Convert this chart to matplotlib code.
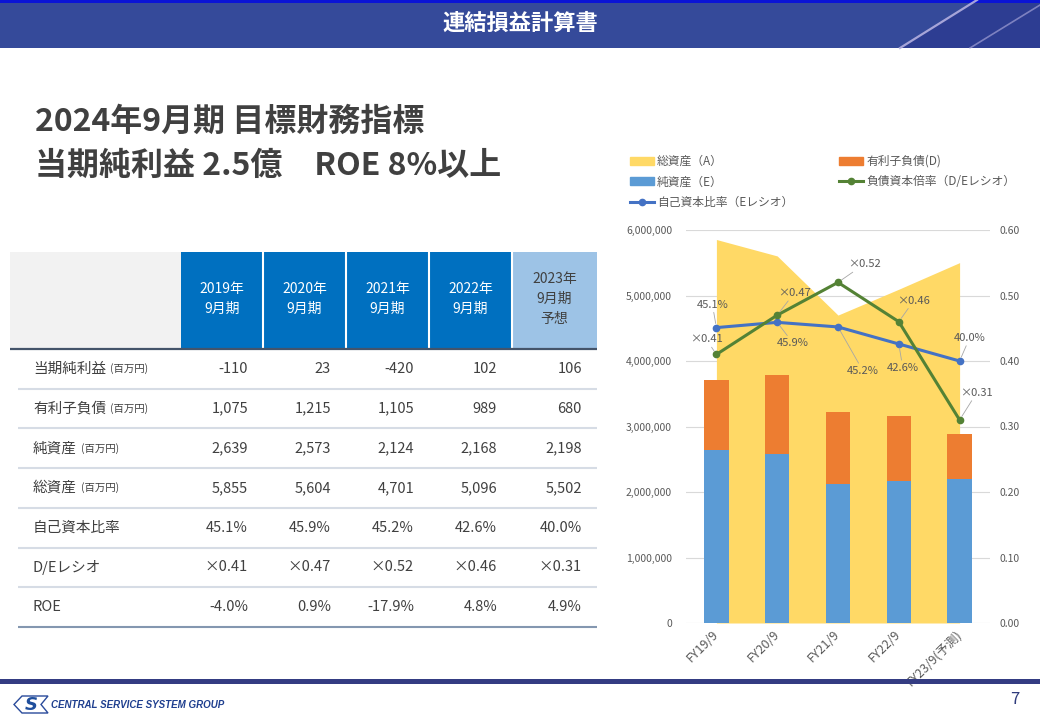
import numpy as np
import matplotlib.pyplot as plt
from matplotlib.patches import Rectangle, Polygon, Patch
from matplotlib.lines import Line2D
from matplotlib.ticker import FuncFormatter

plt.rcParams['font.family'] = ['Noto Sans CJK JP', 'DejaVu Sans']

# data (百万円)
hdr_labels = ['2019年\n9月期', '2020年\n9月期', '2021年\n9月期', '2022年\n9月期', '2023年\n9月期\n予想']
row_names = ['当期純利益', '有利子負債', '純資産', '総資産', '自己資本比率', 'D/Eレシオ', 'ROE']
row_units = ['(百万円)', '(百万円)', '(百万円)', '(百万円)', '', '', '']
net_income = [-110, 23, -420, 102, 106]
debt = [1075, 1215, 1105, 989, 680]
net_assets = [2639, 2573, 2124, 2168, 2198]
total_assets = [5855, 5604, 4701, 5096, 5502]
equity_ratio = [45.1, 45.9, 45.2, 42.6, 40.0]
de_ratio = [0.41, 0.47, 0.52, 0.46, 0.31]
roe = [-4.0, 0.9, -17.9, 4.8, 4.9]
fy_labels = ['FY19/9', 'FY20/9', 'FY21/9', 'FY22/9', 'FY23/9(予測)']

txt = '#404040'
gray = '#595959'

fig = plt.figure(figsize=(10.4, 7.2), dpi=100)
bg = fig.add_axes([0, 0, 1, 1])
bg.set_xlim(0, 1040); bg.set_ylim(720, 0); bg.axis('off')

# header bar
bg.add_patch(Rectangle((0, 0), 1040, 48, color='#354a9a', lw=0))
bg.add_patch(Polygon([(900, 48), (977, 0), (1040, 0), (1040, 48)], color='#2d3d92', lw=0))
bg.plot([900, 977], [48, 0], color='#b4b0e0', lw=1.6, alpha=0.9)
bg.plot([970, 1040], [48, 5], color='#b4b0e0', lw=1.2, alpha=0.6)
bg.add_patch(Rectangle((0, 0), 1040, 2.5, color='#0a14d6', lw=0))
bg.text(520, 23, '連結損益計算書', color='white', fontsize=16, fontweight='bold',
        ha='center', va='center')

# headline
bg.text(35, 122, '2024年9月期 目標財務指標', color=txt, fontsize=23, fontweight='bold',
        ha='left', va='center')
bg.text(35, 166, '当期純利益 2.5億　ROE 8%以上', color=txt, fontsize=23, fontweight='bold',
        ha='left', va='center')

# table
col_edges = [181, 263, 346, 429, 512, 597]
bg.add_patch(Rectangle((10, 252), 171, 97, color='#f2f2f2', lw=0))
for i in range(5):
    c = '#9dc3e6' if i == 4 else '#0070c0'
    bg.add_patch(Rectangle((col_edges[i], 252), col_edges[i + 1] - col_edges[i], 97, color=c, lw=0))
    cx = (col_edges[i] + col_edges[i + 1]) / 2
    bg.text(cx, 299, hdr_labels[i], color=txt if i == 4 else 'white', fontsize=10,
            ha='center', va='center', linespacing=1.5)
bg.vlines(col_edges[1:-1], 252, 349, color='white', lw=1.5)
bg.hlines(349, 10, 597, color='#44546a', lw=1.6)

cells = [
    [f'{v:,}' for v in net_income],
    [f'{v:,}' for v in debt],
    [f'{v:,}' for v in net_assets],
    [f'{v:,}' for v in total_assets],
    [f'{v:.1f}%' for v in equity_ratio],
    [f'×{v:.2f}' for v in de_ratio],
    [f'{v:.1f}%' for v in roe],
]
row_h = 39.7
for r in range(7):
    yc = 349 + row_h * (r + 0.5)
    t = bg.text(33, yc, row_names[r], color=txt, fontsize=10.5, ha='left', va='center')
    if row_units[r]:
        bg.annotate(row_units[r], xy=(1, 0.5), xycoords=t, xytext=(4, 0),
                    textcoords='offset pixels', color=txt, fontsize=7.5,
                    ha='left', va='center')
    for i in range(5):
        bg.text(col_edges[i + 1] - 15, yc, cells[r][i], color=txt, fontsize=10.5,
                ha='right', va='center')
    ly = 349 + row_h * (r + 1)
    if r < 6:
        bg.hlines(ly, 18, 597, color='#d6dce5', lw=1.5)
    else:
        bg.hlines(ly, 18, 597, color='#8497b0', lw=1.5)

# chart
x = np.arange(5)
ta = np.array(total_assets) * 1000
na = np.array(net_assets) * 1000
db = np.array(debt) * 1000

ax = fig.add_axes([686 / 1040, 97 / 720, 304 / 1040, 393 / 720])
ax.patch.set_alpha(0)
ax.fill_between(x, ta, color='#ffd966', lw=0, zorder=1)
ax.bar(x, na, width=0.4, color='#5b9bd5', zorder=2)
ax.bar(x, db, bottom=na, width=0.4, color='#ed7d31', zorder=2)
ax.set_xlim(-0.5, 4.5)
ax.set_ylim(0, 6e6)
ax.set_yticks(np.arange(0, 6e6 + 1, 1e6))
ax.yaxis.set_major_formatter(FuncFormatter(lambda v, p: f'{v:,.0f}'))
ax.yaxis.grid(True, color='#d9d9d9', lw=0.8)
ax.set_axisbelow(True)
ax.set_xticks(x)
ax.set_xticklabels(fy_labels, rotation=45, ha='right', va='center', rotation_mode='anchor')
for s in ax.spines.values():
    s.set_visible(False)
ax.tick_params(axis='both', length=0, colors=gray, labelsize=7.5)
ax.tick_params(axis='x', pad=7, labelsize=9)
ax.tick_params(axis='y', pad=10)

ax2 = ax.twinx()
ax2.set_ylim(0, 0.6)
ax2.set_yticks(np.arange(0, 0.61, 0.1))
ax2.yaxis.set_major_formatter(FuncFormatter(lambda v, p: f'{v:.2f}'))
for s in ax2.spines.values():
    s.set_visible(False)
ax2.tick_params(axis='y', length=0, colors=gray, labelsize=7.5, pad=7)
eq = np.array(equity_ratio) / 100
ax2.plot(x, eq, color='#4472c4', lw=2.2, marker='o', ms=4.5, zorder=3)
ax2.plot(x, de_ratio, color='#548235', lw=2.2, marker='o', ms=4.5, zorder=4)

# data labels (offsets in pixels)
eq_off = [(-4, 23), (16, -21), (25, -44), (4, -24), (10, 23)]
de_off = [(-10, 15), (17, 22), (26, 18), (15, 21), (17, 27)]
lead = dict(arrowstyle='-', color='#a6a6a6', lw=0.6, shrinkA=0, shrinkB=3)
for i in range(5):
    ax2.annotate(f'{equity_ratio[i]:.1f}%', xy=(x[i], eq[i]), xytext=eq_off[i],
                 textcoords='offset pixels', ha='center', va='center', fontsize=8,
                 color=gray, arrowprops=lead, zorder=6)
    ax2.annotate(f'×{de_ratio[i]:.2f}', xy=(x[i], de_ratio[i]), xytext=de_off[i],
                 textcoords='offset pixels', ha='center', va='center', fontsize=8,
                 color=gray, arrowprops=lead, zorder=6)

handles = [
    Patch(color='#ffd966'),
    Patch(color='#5b9bd5'),
    Line2D([], [], color='#4472c4', lw=2.2, marker='o', ms=4.5),
    Patch(color='#ed7d31'),
    Line2D([], [], color='#548235', lw=2.2, marker='o', ms=4.5),
]
labels = ['総資産（A）', '純資産（E）', '自己資本比率（Eレシオ）', '有利子負債(D)', '負債資本倍率（D/Eレシオ）']
fig.legend(handles, labels, ncol=2, loc='upper left', bbox_to_anchor=(630 / 1040, 1 - 155 / 720),
           frameon=False, fontsize=8.5, labelcolor=gray, handlelength=2.0, handleheight=0.6,
           labelspacing=0.62, columnspacing=3.9, handletextpad=0.3, borderaxespad=0, borderpad=0)

# footer
top = fig.add_axes([0, 0, 1, 1])
top.set_xlim(0, 1040); top.set_ylim(720, 0); top.axis('off')
top.patch.set_alpha(0)
top.add_patch(Rectangle((0, 679), 1040, 4.5, color='#343c82', lw=0))
top.add_patch(Polygon([(22, 696), (48, 696), (41, 704.5), (48, 713), (22, 713), (14, 704.5)],
                      closed=True, fill=False, ec='#2a4b9b', lw=1))
top.text(31, 705, 'S', color='#1f4e9c', fontsize=13, fontweight='bold', fontstyle='italic',
         family='DejaVu Sans', ha='center', va='center')
top.text(51, 704.5, 'CENTRAL SERVICE SYSTEM GROUP', color='#1f3f8f', fontsize=7,
         fontweight='bold', fontstyle='italic', family='Liberation Sans', ha='left', va='center')
top.text(1015, 700, '7', color='#2f3b7c', fontsize=12, ha='center', va='center')

fig.savefig('out.png', dpi=100)
